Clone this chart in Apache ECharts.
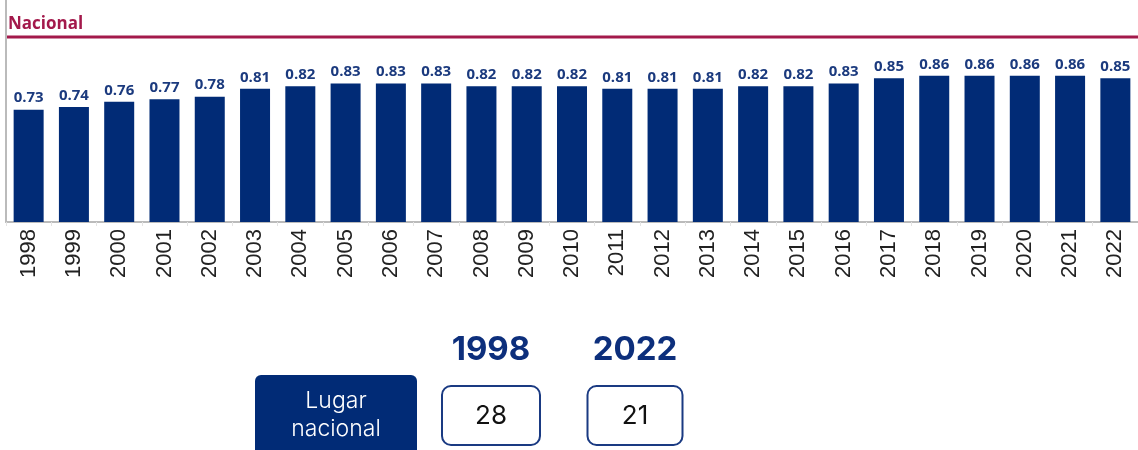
<!DOCTYPE html>
<html>
<head>
<meta charset="utf-8">
<script src="https://cdn.jsdelivr.net/npm/echarts@6/dist/echarts.min.js"></script>
<style>
  html, body { margin: 0; padding: 0; background: #fff; }
  #chart { width: 1138px; height: 450px; }
</style>
</head>
<body>
<div id="chart"></div>
<script>
const years = ['1998', '1999', '2000', '2001', '2002', '2003', '2004', '2005', '2006', '2007', '2008', '2009',
    '2010', '2011', '2012', '2013', '2014', '2015', '2016', '2017', '2018', '2019', '2020', '2021', '2022'];
const values = [0.73, 0.74, 0.76, 0.77, 0.78, 0.81, 0.82, 0.83, 0.83, 0.83, 0.82, 0.82,
    0.82, 0.81, 0.81, 0.81, 0.82, 0.82, 0.83, 0.85, 0.86, 0.86, 0.86, 0.86, 0.85];
const rankYears = ['1998', '2022'];
const ranks = [28, 21];
const rankLabel = 'Lugar\nnacional';

const navy = '#012b76';
const crimson = '#a3194b';

const chart = echarts.init(document.getElementById('chart'));

// bottom block: label box + one box per year
const rankX = [491, 635];
const boxW = [98, 95];
const graphics = [
    {
        type: 'line',
        shape: { x1: 7, y1: 37, x2: 1138, y2: 37 },
        style: { stroke: crimson, lineWidth: 3 }
    },
    {
        type: 'rect',
        shape: { x: 255, y: 375, width: 162, height: 90, r: 6 },
        style: { fill: navy }
    },
    {
        type: 'text',
        x: 336, y: 415,
        style: {
            text: rankLabel, fill: '#fff', font: '300 23px Inter, "Noto Sans", sans-serif',
            align: 'center', verticalAlign: 'middle', lineHeight: 28
        }
    }
];
rankYears.forEach((y, i) => {
    graphics.push({
        type: 'text',
        x: rankX[i], y: 350,
        style: {
            text: y, fill: '#0d2f7c', font: 'bold 33px Inter, "Noto Sans", sans-serif',
            align: 'center', verticalAlign: 'middle'
        }
    });
    graphics.push({
        type: 'rect',
        shape: { x: rankX[i] - boxW[i] / 2, y: 386, width: boxW[i], height: 59, r: 9 },
        style: { fill: '#fff', stroke: '#1a3a82', lineWidth: 2 }
    });
    graphics.push({
        type: 'text',
        x: rankX[i], y: 416,
        style: {
            text: String(ranks[i]), fill: '#111', font: '26px Inter, "Noto Sans", sans-serif',
            align: 'center', verticalAlign: 'middle'
        }
    });
});

chart.setOption({
    animation: false,
    title: {
        text: 'Nacional',
        left: 3,
        top: 11,
        textStyle: {
            color: crimson,
            fontSize: 17,
            fontWeight: 'bold',
            fontFamily: 'Open Sans'
        }
    },
    grid: {
        left: 6,
        right: -9,
        top: 0,
        bottom: 228
    },
    xAxis: {
        type: 'category',
        data: years,
        axisLine: { lineStyle: { color: '#bbbbbb', width: 2 } },
        axisTick: { show: true, lineStyle: { color: '#e4e4e4' }, length: 4 },
        axisLabel: {
            rotate: 90,
            color: '#222',
            fontSize: 22,
            fontFamily: 'Arial, "Liberation Sans", sans-serif',
            margin: 7
        }
    },
    yAxis: {
        type: 'value',
        min: 0.3,
        max: 1.15,
        axisLine: { show: true, lineStyle: { color: '#bbbbbb', width: 2 } },
        axisTick: { show: false },
        axisLabel: { show: false },
        splitLine: { show: false }
    },
    series: [{
        type: 'bar',
        data: values,
        barWidth: 30,
        itemStyle: { color: navy },
        label: {
            show: true,
            position: 'top',
            distance: 4,
            color: '#1b3a7e',
            fontSize: 15,
            fontWeight: 'bold',
            fontFamily: 'Open Sans',
            formatter: ({ value }) => value.toFixed(2)
        }
    }],
    graphic: graphics
});
</script>
</body>
</html>
